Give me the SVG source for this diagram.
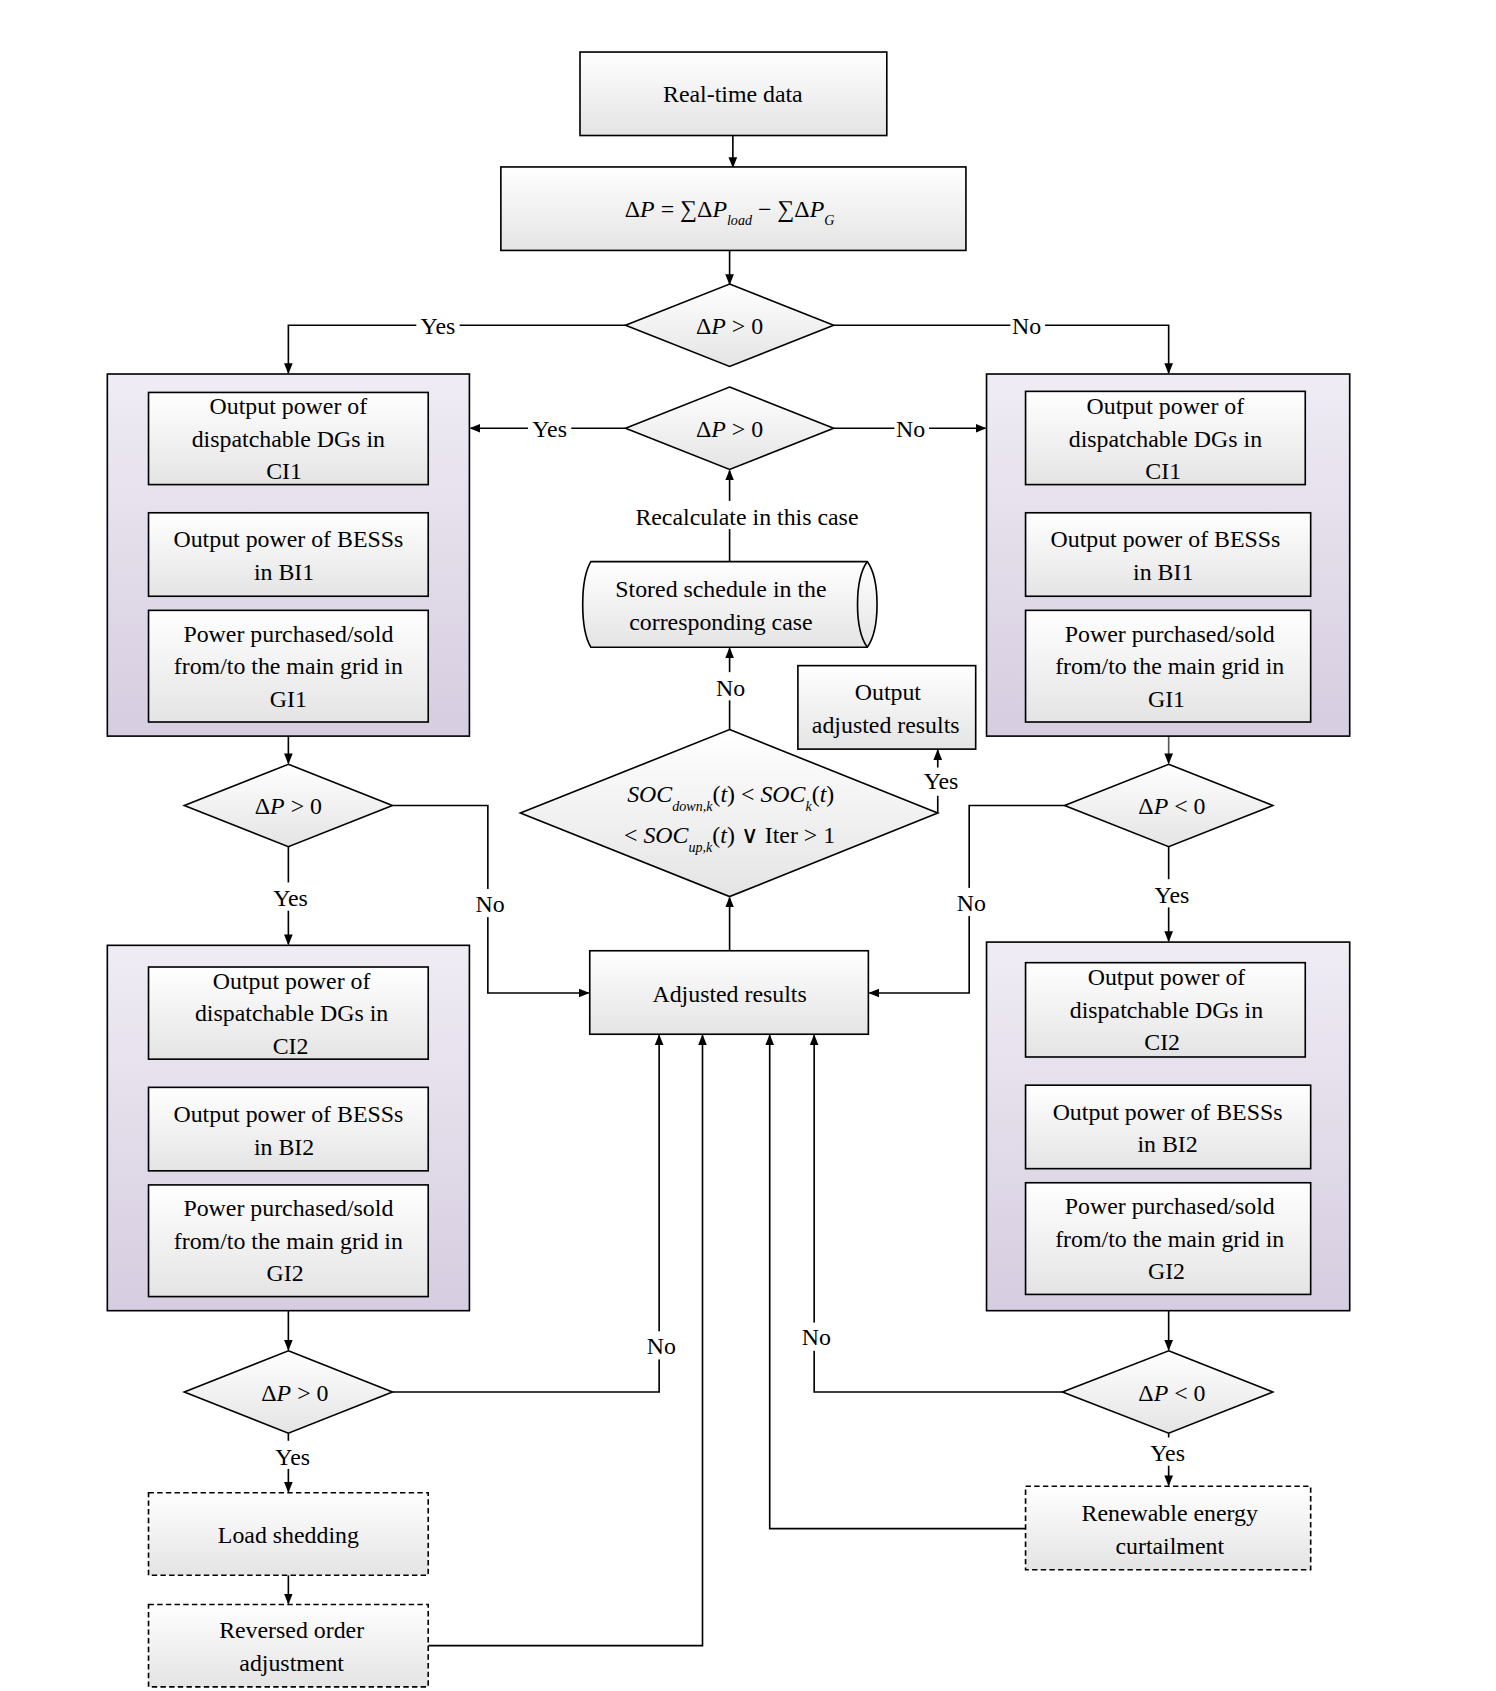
<svg xmlns="http://www.w3.org/2000/svg" width="1496" height="1691" viewBox="0 0 1496 1691">
<defs>
<linearGradient id="gb" x1="0" y1="0" x2="0" y2="1"><stop offset="0" stop-color="#ffffff"/><stop offset="1" stop-color="#e4e4e4"/></linearGradient>
<linearGradient id="gp" x1="0" y1="0" x2="0" y2="1"><stop offset="0" stop-color="#efecf4"/><stop offset="1" stop-color="#d6cde0"/></linearGradient>
<marker id="ar" markerWidth="10" markerHeight="10" refX="9" refY="5" orient="auto" markerUnits="userSpaceOnUse"><path d="M0,1 L10,5 L0,9 Z" fill="#000"/></marker>
</defs>
<style>
.b{fill:url(#gb);stroke:#000;stroke-width:1.5}
.p{fill:url(#gp);stroke:#000;stroke-width:1.5}
.d{fill:url(#gb);stroke:#000;stroke-width:1.5;stroke-dasharray:5,3}
.c{fill:none;stroke:#000;stroke-width:1.5}
.a{fill:none;stroke:#000;stroke-width:1.5;marker-end:url(#ar)}
text{font-family:"Liberation Serif","Times New Roman",serif;font-size:22px;text-anchor:middle;fill:#000}
.i{font-style:italic}
.s{font-size:13px;font-style:italic}
.lb{fill:#fff}
</style>
<g transform="scale(1.0841)">
<g id="connectors">
<path class="a" d="M676,125 V154"/>
<path class="a" d="M673,231 V262"/>
<path class="a" d="M577,300 H266 V344"/>
<path class="a" d="M769,300 H1078 V344"/>
<path class="a" d="M577,395 H434"/>
<path class="a" d="M769,395 H909"/>
<path class="a" d="M673,518 V434"/>
<path class="a" d="M673,673 V598"/>
<path class="a" d="M865,750 V692"/>
<path class="a" d="M673,877 V828"/>
<path class="a" d="M266,679 V704"/>
<path class="a" d="M1078,679 V704" style="stroke:#555"/>
<path class="a" d="M362,743 H450 V916 H543"/>
<path class="a" d="M982,743 H894 V916 H802"/>
<path class="a" d="M266,781 V871"/>
<path class="a" d="M1078,781 V868"/>
<path class="a" d="M266,1209 V1245"/>
<path class="a" d="M1078,1209 V1245"/>
<path class="a" d="M362,1284 H608 V955"/>
<path class="a" d="M980,1284 H751 V955"/>
<path class="a" d="M266,1322 V1376"/>
<path class="a" d="M266,1453 V1479"/>
<path class="a" d="M1078,1322 V1370"/>
<path class="a" d="M395,1518 H648 V955"/>
<path class="a" d="M946,1410 H710 V955"/>
<g>
<rect class="lb" x="384" y="288" width="40" height="24"/><text x="404" y="308">Yes</text>
<rect class="lb" x="932" y="288" width="32" height="24"/><text x="947" y="308">No</text>
<rect class="lb" x="487" y="383" width="40" height="24"/><text x="507" y="403">Yes</text>
<rect class="lb" x="825" y="383" width="32" height="24"/><text x="840" y="403">No</text>
<rect class="lb" x="570" y="462" width="238" height="26"/><text x="689" y="484">Recalculate in this case</text>
<rect class="lb" x="658" y="620" width="32" height="26"/><text x="674" y="642">No</text>
<rect class="lb" x="849" y="708" width="38" height="26"/><text x="868" y="728">Yes</text>
<rect class="lb" x="436" y="820" width="32" height="26"/><text x="452" y="841">No</text>
<rect class="lb" x="880" y="819" width="32" height="26"/><text x="896" y="840">No</text>
<rect class="lb" x="248" y="814" width="40" height="26"/><text x="268" y="836">Yes</text>
<rect class="lb" x="1061" y="811" width="40" height="26"/><text x="1081" y="833">Yes</text>
<rect class="lb" x="594" y="1228" width="32" height="26"/><text x="610" y="1249">No</text>
<rect class="lb" x="737" y="1220" width="32" height="26"/><text x="753" y="1241">No</text>
<rect class="lb" x="250" y="1329" width="40" height="26"/><text x="270" y="1351">Yes</text>
<rect class="lb" x="1057" y="1326" width="40" height="26"/><text x="1077" y="1348">Yes</text>
</g>
</g>
<g id="realtime"><rect class="b" x="535" y="48" width="283" height="77"/><text x="676" y="94">Real-time data</text></g>
<g id="formula"><rect class="b" x="462" y="154" width="429" height="77"/><text x="673" y="200" style="text-anchor:middle">Δ<tspan class="i">P</tspan> = ∑Δ<tspan class="i">P</tspan><tspan class="s" dy="8">load</tspan><tspan dy="-8"> − ∑Δ</tspan><tspan class="i">P</tspan><tspan class="s" dy="8">G</tspan></text></g>
<g id="dec1"><polygon class="b" points="673,262 769,300 673,338 577,300"/><text x="673" y="308">Δ<tspan class="i">P</tspan> &gt; 0</text></g>
<g id="dec2"><polygon class="b" points="673,357 769,395 673,433 577,395"/><text x="673" y="403">Δ<tspan class="i">P</tspan> &gt; 0</text></g>
<g id="left1"><rect class="p" x="99" y="345" width="334" height="334"/>
<rect class="b" x="137" y="362" width="258" height="85"/><text x="266" y="382">Output power of</text><text x="266" y="412">dispatchable DGs in</text><text x="262" y="442">CI1</text>
<rect class="b" x="137" y="473" width="258" height="77"/><text x="266" y="505">Output power of BESSs</text><text x="262" y="535">in BI1</text>
<rect class="b" x="137" y="563" width="258" height="103"/><text x="266" y="592">Power purchased/sold</text><text x="266" y="622">from/to the main grid in</text><text x="266" y="652">GI1</text></g>
<g id="right1"><rect class="p" x="910" y="345" width="335" height="334"/>
<rect class="b" x="946" y="361" width="258" height="86"/><text x="1075" y="382">Output power of</text><text x="1075" y="412">dispatchable DGs in</text><text x="1073" y="442">CI1</text>
<rect class="b" x="946" y="473" width="263" height="77"/><text x="1075" y="505">Output power of BESSs</text><text x="1073" y="535">in BI1</text>
<rect class="b" x="946" y="563" width="263" height="103"/><text x="1079" y="592">Power purchased/sold</text><text x="1079" y="622">from/to the main grid in</text><text x="1076" y="652">GI1</text></g>
<g id="stored"><path class="b" d="M545,518 H800 C812,535 812,580 800,597 H545 C535,580 535,535 545,518 Z"/><path class="c" d="M800,518 C788,535 788,580 800,597"/><text x="665" y="551">Stored schedule in the</text><text x="665" y="581">corresponding case</text></g>
<g id="output"><rect class="b" x="736" y="614" width="164" height="77"/><text x="819" y="646">Output</text><text x="817" y="676">adjusted results</text></g>
<g id="soc"><polygon class="b" points="673,673 865,750 673,827 480,750"/>
<text x="674" y="740"><tspan class="i">SOC</tspan><tspan class="s" dy="8">down,k</tspan><tspan dy="-8">(</tspan><tspan class="i">t</tspan>) &lt; <tspan class="i">SOC</tspan><tspan class="s" dy="8">k</tspan><tspan dy="-8">(</tspan><tspan class="i">t</tspan>)</text>
<text x="673" y="778">&lt; <tspan class="i">SOC</tspan><tspan class="s" dy="8">up,k</tspan><tspan dy="-8">(</tspan><tspan class="i">t</tspan>) ∨ Iter &gt; 1</text></g>
<g id="adjusted"><rect class="b" x="544" y="877" width="257" height="77"/><text x="673" y="924">Adjusted results</text></g>
<g id="dec3l"><polygon class="b" points="266,705 362,743 266,781 170,743"/><text x="266" y="751">Δ<tspan class="i">P</tspan> &gt; 0</text></g>
<g id="dec3r"><polygon class="b" points="1078,705 1174,743 1078,781 982,743"/><text x="1081" y="751">Δ<tspan class="i">P</tspan> &lt; 0</text></g>
<g id="left2"><rect class="p" x="99" y="872" width="334" height="337"/>
<rect class="b" x="137" y="892" width="258" height="85"/><text x="269" y="912">Output power of</text><text x="269" y="942">dispatchable DGs in</text><text x="268" y="972">CI2</text>
<rect class="b" x="137" y="1003" width="258" height="77"/><text x="266" y="1035">Output power of BESSs</text><text x="262" y="1065">in BI2</text>
<rect class="b" x="137" y="1093" width="258" height="103"/><text x="266" y="1122">Power purchased/sold</text><text x="266" y="1152">from/to the main grid in</text><text x="263" y="1182">GI2</text></g>
<g id="right2"><rect class="p" x="910" y="869" width="335" height="340"/>
<rect class="b" x="946" y="888" width="258" height="87"/><text x="1076" y="909">Output power of</text><text x="1076" y="939">dispatchable DGs in</text><text x="1072" y="969">CI2</text>
<rect class="b" x="946" y="1001" width="263" height="77"/><text x="1077" y="1033">Output power of BESSs</text><text x="1077" y="1063">in BI2</text>
<rect class="b" x="946" y="1091" width="263" height="103"/><text x="1079" y="1120">Power purchased/sold</text><text x="1079" y="1150">from/to the main grid in</text><text x="1076" y="1180">GI2</text></g>
<g id="dec4l"><polygon class="b" points="266,1246 362,1284 266,1322 170,1284"/><text x="272" y="1292">Δ<tspan class="i">P</tspan> &gt; 0</text></g>
<g id="dec4r"><polygon class="b" points="1078,1246 1174,1284 1078,1322 980,1284"/><text x="1081" y="1292">Δ<tspan class="i">P</tspan> &lt; 0</text></g>
<g id="shed"><rect class="d" x="137" y="1377" width="258" height="76"/><text x="266" y="1423">Load shedding</text></g>
<g id="reversed"><rect class="d" x="137" y="1480" width="258" height="76"/><text x="269" y="1511">Reversed order</text><text x="269" y="1541">adjustment</text></g>
<g id="curtail"><rect class="d" x="946" y="1371" width="263" height="77"/><text x="1079" y="1403">Renewable energy</text><text x="1079" y="1433">curtailment</text></g>
</g>
</svg>
